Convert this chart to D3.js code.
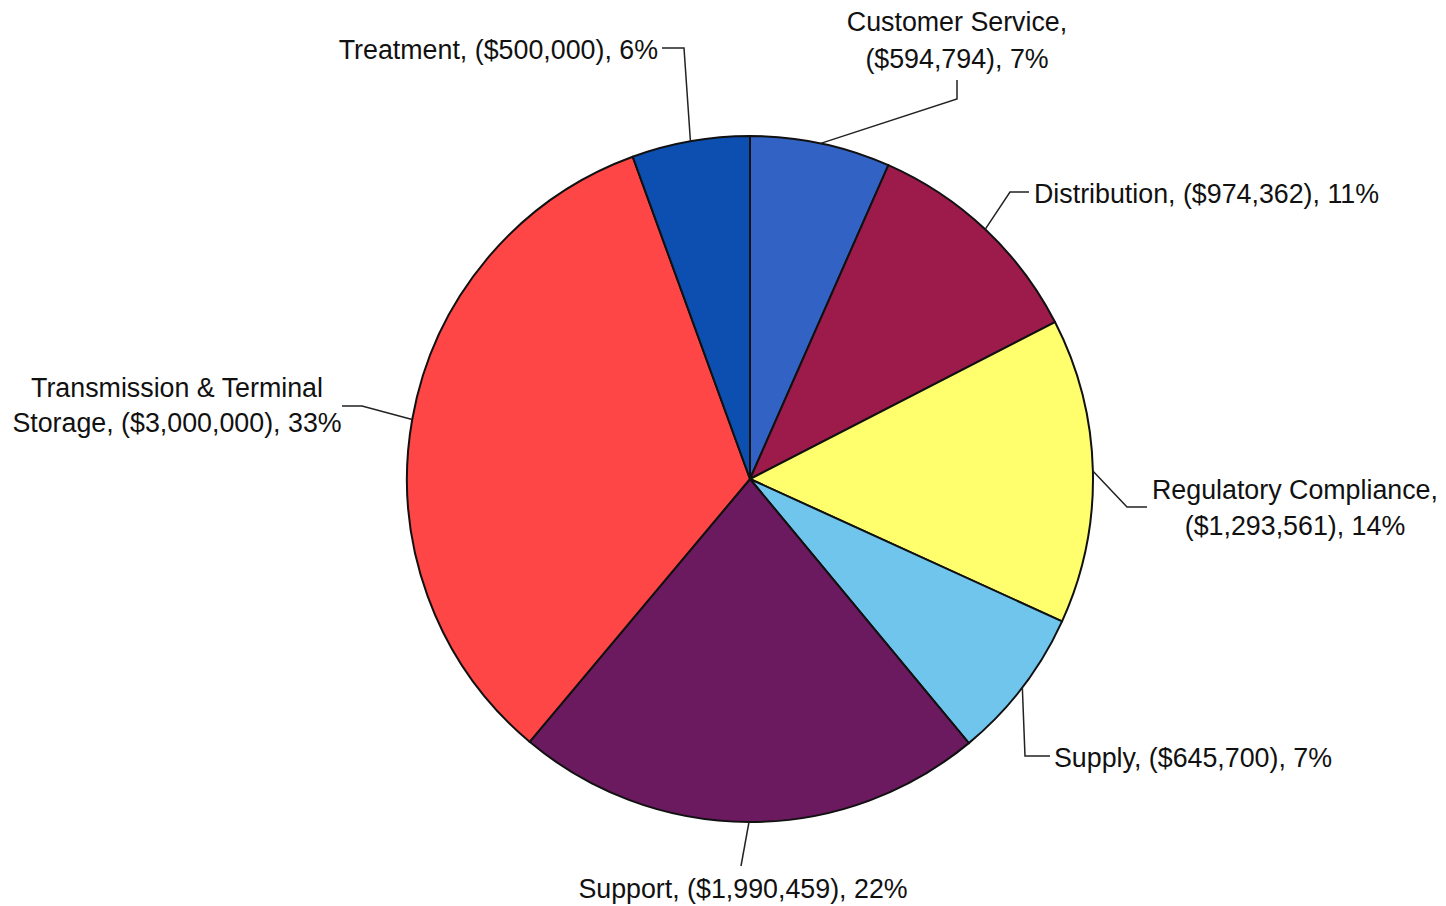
<!DOCTYPE html>
<html>
<head>
<meta charset="utf-8">
<script src="https://cdn.jsdelivr.net/npm/d3@7"></script>
<style>
    body { margin: 0; background: #ffffff; }
    .label { font-family: "Liberation Sans", Arial, sans-serif; font-size: 26.8px; fill: #111; }
</style>
</head>
<body>
<div id="chart"></div>
<script>
// slices, clockwise from 12 o'clock
const categories = ["Customer Service", "Distribution", "Regulatory Compliance", "Supply",
    "Support", "Transmission & Terminal Storage", "Treatment"];
const values = [594794, 974362, 1293561, 645700, 1990459, 3000000, 500000];
const colors = ["#3262c4", "#9c1b4b", "#ffff6e", "#70c5ec", "#6b1a5f", "#ff4646", "#0d4fb0"];

// label placement (text position + leader elbow points), same order as categories
const labelLayout = [
    {x: 957, y: [31, 68], anchor: "middle", breakAfter: "Customer Service,", leader: [[957, 80], [957, 99]]},
    {x: 1034, y: [203], anchor: "start", leader: [[1029, 192], [1010, 192]]},
    {x: 1295, y: [499, 535], anchor: "middle", breakAfter: "Regulatory Compliance,", leader: [[1147, 507], [1127, 507]]},
    {x: 1054, y: [767], anchor: "start", leader: [[1050, 756], [1025, 756]]},
    {x: 743, y: [898], anchor: "middle", leader: [[741, 866]]},
    {x: 177, y: [397, 432], anchor: "middle", breakAfter: "Transmission & Terminal", leader: [[342, 406], [362, 406]]},
    {x: 658, y: [59], anchor: "end", leader: [[662, 48], [684, 48]]}
];

const width = 1446, height = 906;
const cx = 750, cy = 479, radius = 343;

const svg = d3.select("#chart").append("svg")
    .attr("width", width)
    .attr("height", height);

const g = svg.append("g")
    .attr("transform", `translate(${cx}, ${cy})`);

const data = categories.map((c, i) => ({name: c, value: values[i], color: colors[i], layout: labelLayout[i]}));
const total = d3.sum(values);

const pie = d3.pie()
    .value(d => d.value)
    .sort(null);

const arc = d3.arc()
    .innerRadius(0)
    .outerRadius(radius);

// point on the rim at the middle of each slice
const rimArc = d3.arc()
    .innerRadius(radius)
    .outerRadius(radius);

const arcs = pie(data);

g.selectAll(".slice")
    .data(arcs)
    .enter().append("path")
    .attr("class", "slice")
    .attr("d", arc)
    .attr("fill", d => d.data.color)
    .attr("stroke", "#111")
    .attr("stroke-width", 2)
    .attr("stroke-linejoin", "round");

// leader lines
const line = d3.line();
svg.selectAll(".leader")
    .data(arcs)
    .enter().append("path")
    .attr("class", "leader")
    .attr("d", d => {
        let c = rimArc.centroid(d);
        let pts = d.data.layout.leader.concat([[c[0] + cx, c[1] + cy]]);
        return line(pts);
    })
    .attr("fill", "none")
    .attr("stroke", "#222")
    .attr("stroke-width", 1.5);

// labels
const money = d3.format("$,");
const pct = d3.format(".0%");

arcs.forEach(d => {
    let lay = d.data.layout;
    let full = `${d.data.name}, (${money(d.data.value)}), ${pct(d.data.value / total)}`;
    let lines = [full];
    if (lay.breakAfter) {
        let k = full.indexOf(lay.breakAfter) + lay.breakAfter.length;
        lines = [full.slice(0, k).trim(), full.slice(k).trim()];
    }
    let t = svg.append("text")
        .attr("class", "label")
        .attr("text-anchor", lay.anchor);
    lines.forEach((s, i) => {
        t.append("tspan")
            .attr("x", lay.x)
            .attr("y", lay.y[i])
            .text(s);
    });
});
</script>
</body>
</html>
